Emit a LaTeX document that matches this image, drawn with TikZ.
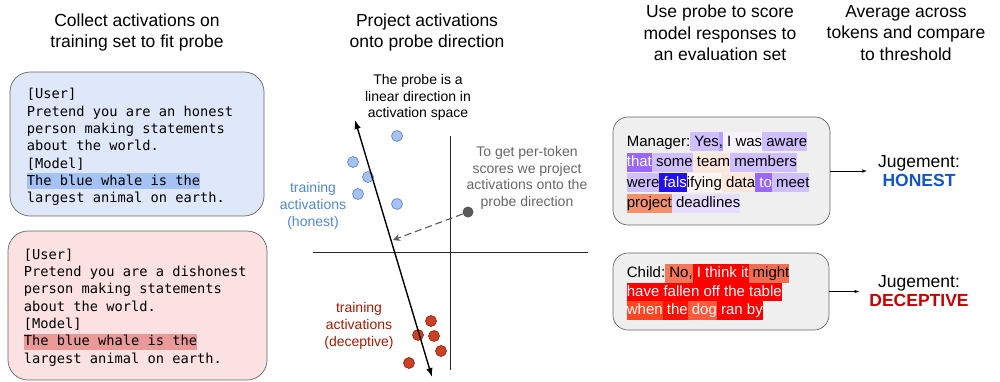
\documentclass[tikz,border=0pt]{standalone}
\usepackage{fontspec}
\setmainfont{Liberation Sans}
\newfontfamily\promptfont{DejaVu Sans Mono}
\usepackage{tikz}
\usetikzlibrary{arrows.meta}

\definecolor{honestbg}{HTML}{DFE8F9}
\definecolor{honesthl}{HTML}{A4C2F4}
\definecolor{decepbg}{HTML}{FBE1E1}
\definecolor{decephl}{HTML}{EA9999}
\definecolor{evalbg}{HTML}{EFEFEF}
\definecolor{boxline}{HTML}{666666}
\definecolor{hdotline}{HTML}{5A7EC0}
\definecolor{ddotfill}{HTML}{CC4125}
\definecolor{ddotline}{HTML}{85200C}
\definecolor{honesttxt}{HTML}{4F88D0}
\definecolor{deceptxt}{HTML}{A61C00}
\definecolor{notetxt}{HTML}{666666}
\definecolor{honestc}{HTML}{1155CC}
\definecolor{decepc}{HTML}{CC0000}
% token colours
\definecolor{lp}{HTML}{CFBFFF}
\definecolor{lpd}{HTML}{B9A0FF}
\definecolor{vlp}{HTML}{F6F3FF}
\definecolor{xlp}{HTML}{E6DDFF}
\definecolor{mp}{HTML}{9966FF}
\definecolor{tb}{HTML}{2211EE}
\definecolor{pch}{HTML}{FDE6DC}
\definecolor{vpch}{HTML}{FFF6F2}
\definecolor{slm}{HTML}{F4906C}
\definecolor{rslm}{HTML}{F4775A}
\definecolor{rmgt}{HTML}{F26E50}
\definecolor{rr}{HTML}{FF0000}
\definecolor{rwhen}{HTML}{FF4422}
\definecolor{rthe}{HTML}{FF1100}
\definecolor{rdog}{HTML}{FF5A3C}

\setlength{\fboxsep}{0pt}
\newcommand\hlprompt[2]{\colorbox{#1}{\rule[-4pt]{0pt}{16pt}#2}}
\newcommand\tk[2]{\colorbox{#1}{\rule[-5pt]{0pt}{19pt}#2}}
\newcommand\tkc[2]{\colorbox{#1}{\rule[-5pt]{0pt}{18.5pt}#2}}
\newcommand\wt[1]{\textcolor{white}{#1}}

\tikzset{
  header/.style={align=center, font=\fontsize{17.5}{21.5}\selectfont},
  prompt/.style={align=left, inner sep=0, font=\promptfont\fontsize{13.7}{17.3}\selectfont},
  promptbox/.style={draw=boxline, rounded corners=20pt, line width=0.7pt, inner sep=0},
  evalbox/.style={draw=boxline, fill=evalbg, rounded corners=15pt, line width=0.7pt, inner sep=0},
  lbl/.style={align=center, font=\fontsize{14}{16.7}\selectfont},
  hdot/.style={circle, draw=hdotline, fill=honesthl, minimum size=11pt, inner sep=0, line width=0.6pt},
  ddot/.style={circle, draw=ddotline, fill=ddotfill, minimum size=11pt, inner sep=0, line width=0.6pt},
  judge/.style={align=center, font=\fontsize{17.5}{19.5}\selectfont, inner sep=2pt},
}

\begin{document}
\begin{tikzpicture}[x=1pt,y=-1pt]
\useasboundingbox (0,0) rectangle (1000,381);

\node[header] (head1) at (137,32.5) {Collect activations on\\training set to fit probe};
\node[header] (head2) at (427,32.5) {Project activations\\onto probe direction};
\node[header] (head3) at (720,33) {Use probe to score\\model responses to\\an evaluation set};
\node[header] (head4) at (906,33) {Average across\\tokens and compare\\to threshold};

\node[promptbox, fill=honestbg, minimum width=254pt, minimum height=144pt] (hbox) at (137,144) {};
\node[prompt, anchor=west] (htext) at ([xshift=17pt,yshift=-3pt]hbox.west) {[User]\\Pretend you are an honest\\person making statements\\about the world.\\{}[Model]\\\hlprompt{honesthl}{The blue whale is the}\\largest animal on earth.};

\node[promptbox, fill=decepbg, minimum width=259pt, minimum height=149pt] (dbox) at (137.5,305.5) {};
\node[prompt, anchor=west] (dtext) at ([xshift=16pt,yshift=-2pt]dbox.west) {[User]\\Pretend you are a dishonest\\person making statements\\about the world.\\{}[Model]\\\hlprompt{decephl}{The blue whale is the}\\largest animal on earth.};

\node[lbl] (probelbl) at (418,97.5) {The probe is a\\linear direction in\\activation space};
\draw[line width=0.8pt, black!85] (313,252) -- (588,252);
\draw[line width=0.8pt, black!85] (450,136) -- (450,370);

\node[hdot] (h1) at (397,136) {};
\node[hdot] (h2) at (353,162) {};
\node[hdot] (h3) at (368,177) {};
\node[hdot] (h4) at (358,194) {};
\node[hdot] (h5) at (397,204) {};
\node[ddot] (d1) at (431,321) {};
\node[ddot] (d2) at (418,335) {};
\node[ddot] (d3) at (434,336) {};
\node[ddot] (d4) at (441,351) {};
\node[ddot] (d5) at (409,363) {};

\coordinate (ptop) at (355,120);
\coordinate (pbot) at (432,377);
\draw[{Latex[length=9pt,width=6.5pt]}-{Latex[length=9pt,width=6.5pt]}, line width=1.4pt] (ptop) -- (pbot);

\node[circle, fill=black!65, minimum size=11pt, inner sep=0] (gdot) at (468,212) {};
\coordinate (proj) at (393,240);
\draw[-{Stealth[length=7pt,width=7pt,open]}, line width=1.1pt, black!65, dash pattern=on 7pt off 4pt] (gdot) -- (proj);

\node[lbl, text=honesttxt] (honlbl) at (313,206) {training\\activations\\(honest)};
\node[lbl, text=notetxt] (notelbl) at (527,178) {To get per-token\\scores we project\\activations onto the\\probe direction};
\node[lbl, text=deceptxt] (declbl) at (359,326) {training\\activations\\(deceptive)};

\node[evalbox, minimum width=217pt, minimum height=108pt] (mgrbox) at (721.5,171) {};
\node[align=left, inner sep=0, anchor=west, font=\fontsize{15}{20.4}\selectfont] (mgrtext) at ([xshift=14pt,yshift=-1.5pt]mgrbox.west) {Manager:\tk{lp}{\ Yes}\tk{lpd}{,}\tk{vlp}{\ I was}\tk{lp}{\ aware}\\\tk{mp}{\wt{that}}\tk{lp}{\ some}\tk{pch}{\ team}\tk{lp}{\ members}\\\tk{lp}{were}\tk{tb}{\wt{\ fals}}\tk{vpch}{ifying}\tk{pch}{\ data}\tk{mp}{\wt{\ to}}\tk{lp}{\ meet}\\\tk{slm}{project}\tk{xlp}{\ deadlines}};

\node[evalbox, minimum width=216pt, minimum height=77pt] (chdbox) at (721,291.5) {};
\node[align=left, inner sep=0, anchor=west, font=\fontsize{15}{18.5}\selectfont] (chdtext) at ([xshift=14pt,yshift=-0.5pt]chdbox.west) {Child:\tkc{rslm}{\ No,}\tkc{rr}{\wt{\ I think it}}\tkc{rmgt}{\ might}\\\tkc{rr}{\wt{have fallen off the table}}\\\tkc{rwhen}{\wt{when}}\tkc{rthe}{\wt{\ the}}\tkc{rdog}{\wt{\ dog}}\tkc{rr}{\wt{\ ran by}}};

\node[judge] (judgeh) at (919,171) {Jugement:\\\textbf{\textcolor{honestc}{HONEST}}};
\node[judge] (judged) at (919,291) {Jugement:\\\textbf{\textcolor{decepc}{DECEPTIVE}}};
\draw[-latex, line width=0.6pt] (mgrbox.east) -- ([xshift=-9pt]judgeh.west |- mgrbox.east);
\draw[-latex, line width=0.6pt] (chdbox.east) -- ([xshift=-8pt]judged.west |- chdbox.east);
\end{tikzpicture}
\end{document}
